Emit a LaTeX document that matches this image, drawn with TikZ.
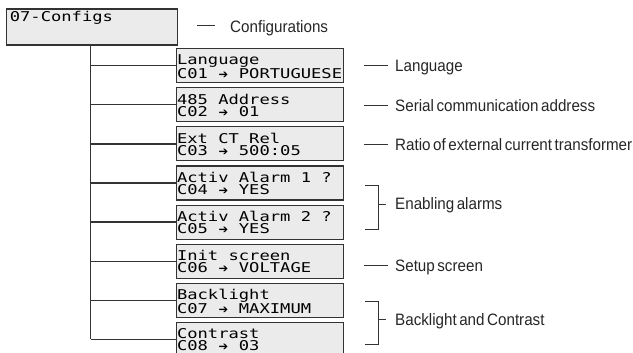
\documentclass[tikz,border=0pt]{standalone}
\usepackage{fontspec}
\newfontfamily\lcdfont[FakeStretch=1.27]{DejaVu Sans Mono}
\newfontfamily\notefont[FakeStretch=0.92,WordSpace=0.6]{Liberation Sans}
\newfontfamily\arrowfont{DejaVu Sans}
\newcommand{\lcdtype}{\lcdfont\fontsize{13.5}{12}\selectfont\hyphenpenalty=10000\relax}
% one LCD cell
\newcommand{\lcdgap}{\hspace*{10.32pt}}
\newcommand{\lcdarrow}{\makebox[10.32pt]{\arrowfont\fontsize{11.5}{11.5}\selectfont ➔}}
\usetikzlibrary{positioning}

\begin{document}
\begin{tikzpicture}[x=1pt, y=-1pt,
        menu/.style={rectangle, draw=black!80, fill=black!8, line width=1.2pt, minimum width=167pt, minimum height=34pt, text width=166pt, inner xsep=0.5pt, inner ysep=0pt, text height=14.5pt, text depth=16pt, align=left, font=\lcdtype},
        rootbox/.style={menu, minimum width=171pt, minimum height=36pt, text width=165pt, inner xsep=3pt, inner ysep=2.7pt, text height=10.3pt, text depth=20.3pt},
        note/.style={anchor=base west, inner sep=0pt, text=black!85, font=\notefont\fontsize{16.5}{18}\selectfont},
        wire/.style={draw=black!80, line width=1.3pt},
        mark line/.style={draw=black!80, line width=1pt},
    ]
    \useasboundingbox (0,0) rectangle (633,353);

    % Root menu
    \node[rootbox] (cfg) at (92.3,27) {07-Configs};

    % Sub menus
    \node[menu] (c01) at (260,65.7) {Language\\C01\lcdgap\lcdarrow\lcdgap PORTUGUESE};
    \node[menu] (c02) at (260,104.8) {485\lcdgap Address\\C02\lcdgap\lcdarrow\lcdgap 01};
    \node[menu] (c03) at (260,143.9) {Ext\lcdgap CT\lcdgap Rel\\C03\lcdgap\lcdarrow\lcdgap 500:05};
    \node[menu] (c04) at (260,183.0) {Activ\lcdgap Alarm\lcdgap 1\lcdgap ?\\C04\lcdgap\lcdarrow\lcdgap YES};
    \node[menu] (c05) at (260,222.1) {Activ\lcdgap Alarm\lcdgap 2\lcdgap ?\\C05\lcdgap\lcdarrow\lcdgap YES};
    \node[menu] (c06) at (260,261.2) {Init\lcdgap screen\\C06\lcdgap\lcdarrow\lcdgap VOLTAGE};
    \node[menu] (c07) at (260,300.3) {Backlight\\C07\lcdgap\lcdarrow\lcdgap MAXIMUM};
    \node[menu] (c08) at (260,339.4) {Contrast\\C08\lcdgap\lcdarrow\lcdgap 03};

    % Tree lines
    \coordinate (trunk) at ([xshift=-1.8pt]cfg.south);
    \draw[wire] (trunk) -- (trunk |- c08.west);
    \draw[wire] (trunk |- c01.west) -- (c01.west);
    \draw[wire] (trunk |- c02.west) -- (c02.west);
    \draw[wire] (trunk |- c03.west) -- (c03.west);
    \draw[wire] (trunk |- c04.west) -- (c04.west);
    \draw[wire] (trunk |- c05.west) -- (c05.west);
    \draw[wire] (trunk |- c06.west) -- (c06.west);
    \draw[wire] (trunk |- c07.west) -- (c07.west);
    \draw[wire] (trunk |- c08.west) -- (c08.west);

    % Notes
    \node[note] (nconf) at (230,33) {Configurations};
    \node[note] (nlang) at (395,71.5) {Language};
    \node[note] (naddr) at (395,111.5) {Serial communication address};
    \node[note] (nratio) at (395,151) {Ratio of external current transformer};
    \node[note] (nalarm) at (395,210) {Enabling alarms};
    \node[note] (nsetup) at (395,271.5) {Setup screen};
    \node[note] (nlight) at (395,325) {Backlight and Contrast};

    % Note marks
    \draw[mark line] ([shift={(-33,-7)}]nconf.base west) -- ([shift={(-15,-7)}]nconf.base west);
    \draw[mark line] ([shift={(-31,-6)}]nlang.base west) -- ([shift={(-7,-6)}]nlang.base west);
    \draw[mark line] ([shift={(-31,-6)}]naddr.base west) -- ([shift={(-7,-6)}]naddr.base west);
    \draw[mark line] ([shift={(-31,-6)}]nratio.base west) -- ([shift={(-7,-6)}]nratio.base west);
    \draw[mark line] ([shift={(-31,-6)}]nsetup.base west) -- ([shift={(-7,-6)}]nsetup.base west);
    \draw[mark line] ([shift={(-30,-24)}]nalarm.base west) -| ([shift={(-17,19)}]nalarm.base west) -- ++(-13,0);
    \draw[mark line] ([shift={(-17,-5.5)}]nalarm.base west) -- ([shift={(-9,-5.5)}]nalarm.base west);
    \draw[mark line] ([shift={(-30,-24)}]nlight.base west) -| ([shift={(-17,19)}]nlight.base west) -- ++(-13,0);
    \draw[mark line] ([shift={(-17,-5.5)}]nlight.base west) -- ([shift={(-9,-5.5)}]nlight.base west);
\end{tikzpicture}
\end{document}
